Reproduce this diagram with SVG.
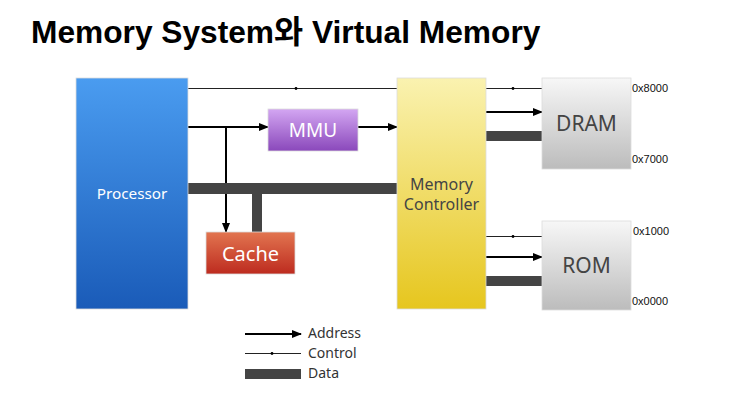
<svg xmlns="http://www.w3.org/2000/svg" width="729" height="415" viewBox="0 0 729 415">
<defs>
<linearGradient id="gProc" x1="0" y1="0" x2="0" y2="1"><stop offset="0" stop-color="#4a9cf0"/><stop offset="1" stop-color="#1a5bb8"/></linearGradient>
<linearGradient id="gMmu" x1="0" y1="0" x2="0" y2="1"><stop offset="0" stop-color="#d3a6f2"/><stop offset="1" stop-color="#8a48bb"/></linearGradient>
<linearGradient id="gCache" x1="0" y1="0" x2="0" y2="1"><stop offset="0" stop-color="#e27550"/><stop offset="1" stop-color="#bd2b1f"/></linearGradient>
<linearGradient id="gMc" x1="0" y1="0" x2="0" y2="1"><stop offset="0" stop-color="#faf2b0"/><stop offset="1" stop-color="#e6c61e"/></linearGradient>
<linearGradient id="gMem" x1="0" y1="0" x2="0" y2="1"><stop offset="0" stop-color="#f7f7f7"/><stop offset="1" stop-color="#bcbcbc"/></linearGradient>
<marker id="arr" markerWidth="10" markerHeight="8" refX="9" refY="4" orient="auto" markerUnits="userSpaceOnUse"><path d="M0,0 L10,4 L0,8 z" fill="#000"/></marker>
</defs>
<style>
.box{stroke:#dddddd;stroke-width:0.8}
.lbl{font-family:"Noto Sans","Liberation Sans",sans-serif;text-anchor:middle;dominant-baseline:central}
.addr{stroke:#000;stroke-width:2;fill:none}
.ctrl{stroke:#222;stroke-width:1;fill:none}
.data{fill:#444444}
.hex{font-family:"Liberation Sans",sans-serif;font-size:11px;fill:#111}
.leg{font-family:"Noto Sans","Liberation Sans",sans-serif;font-size:14px;fill:#333}
</style>
<rect width="729" height="415" fill="#ffffff"/>
<text x="31" y="43" font-family="'Liberation Sans','Noto Sans CJK KR',sans-serif" font-weight="bold" font-size="31.7" fill="#000">Memory System와 Virtual Memory</text>

<g id="connectors">
<line class="ctrl" x1="188" y1="88.5" x2="397" y2="88.5"/>
<circle cx="296" cy="88.5" r="1.4" fill="#000"/>
<line class="addr" x1="188" y1="127" x2="268" y2="127" marker-end="url(#arr)"/>
<line class="addr" x1="358" y1="127" x2="397" y2="127" marker-end="url(#arr)"/>
<line class="addr" x1="226" y1="127" x2="226" y2="232" marker-end="url(#arr)"/>
<rect class="data" x="188" y="183" width="209" height="11"/>
<rect class="data" x="252" y="194" width="10" height="38"/>
<line class="ctrl" x1="486" y1="88.5" x2="542" y2="88.5"/>
<circle cx="513" cy="88.5" r="1.4" fill="#000"/>
<line class="addr" x1="486" y1="112" x2="542" y2="112" marker-end="url(#arr)"/>
<rect class="data" x="486" y="131" width="56" height="10"/>
<line class="ctrl" x1="486" y1="236.5" x2="542" y2="236.5"/>
<circle cx="513" cy="236.5" r="1.4" fill="#000"/>
<line class="addr" x1="486" y1="257" x2="542" y2="257" marker-end="url(#arr)"/>
<rect class="data" x="486" y="276" width="56" height="10"/>
</g>

<g id="processor"><rect class="box" x="76" y="78" width="112" height="231" fill="url(#gProc)"/><text class="lbl" x="132" y="193" font-size="15.3" fill="#fff">Processor</text></g>
<g id="mmu"><rect class="box" x="268" y="109" width="90" height="42" fill="url(#gMmu)"/><text class="lbl" x="313" y="130" font-size="19" fill="#fff">MMU</text></g>
<g id="cache"><rect class="box" x="206" y="232" width="89" height="42" fill="url(#gCache)"/><text class="lbl" x="250.5" y="253" font-size="20" fill="#fff">Cache</text></g>
<g id="memctrl"><rect class="box" x="397" y="78" width="89" height="231" fill="url(#gMc)"/><text class="lbl" x="441.5" y="184" font-size="16" fill="#444">Memory</text><text class="lbl" x="441.5" y="204" font-size="16" fill="#444">Controller</text></g>
<g id="dram"><rect class="box" x="542" y="78" width="89" height="91" fill="url(#gMem)"/><text class="lbl" x="586.5" y="123" font-size="21" fill="#444">DRAM</text><text class="hex" x="632" y="92">0x8000</text><text class="hex" x="632" y="163">0x7000</text></g>
<g id="rom"><rect class="box" x="542" y="221" width="89" height="89" fill="url(#gMem)"/><text class="lbl" x="586.5" y="265" font-size="21" fill="#444">ROM</text><text class="hex" x="633" y="235">0x1000</text><text class="hex" x="632" y="305">0x0000</text></g>

<g id="legend">
<line class="addr" x1="245" y1="334" x2="301" y2="334" marker-end="url(#arr)"/>
<text class="leg" x="308" y="338">Address</text>
<line class="ctrl" x1="245" y1="353.5" x2="301" y2="353.5"/>
<circle cx="272" cy="353.5" r="1.4" fill="#000"/>
<text class="leg" x="308" y="358">Control</text>
<rect class="data" x="245" y="369" width="56" height="10"/>
<text class="leg" x="308" y="378">Data</text>
</g>
</svg>
